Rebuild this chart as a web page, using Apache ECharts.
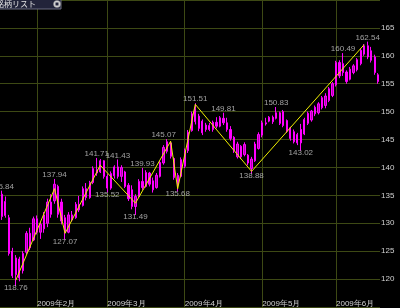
<!DOCTYPE html>
<html><head><meta charset="utf-8">
<script src="https://cdn.jsdelivr.net/npm/echarts@6/dist/echarts.min.js"></script>
<style>html,body{margin:0;padding:0;background:#000;}#c{width:400px;height:308px;}</style>
</head><body><div id="c"></div>
<script>
// Trading days (weekdays) from 2009-01-19 to 2009-06-17
const startDate = '2009-01-19', endDate = '2009-06-17';
const categories = [];
(function(){
  const d = new Date(startDate + 'T00:00:00Z'), e = new Date(endDate + 'T00:00:00Z');
  while (d <= e) {
    const w = d.getUTCDay();
    if (w !== 0 && w !== 6) categories.push(d.toISOString().slice(0,10));
    d.setUTCDate(d.getUTCDate() + 1);
  }
})();

const opens  = [135.2,131.4,131.0,125.0,120.8,123.6,121.5,124.8,128.2,127.0,130.8,128.4,129.0,130.0,133.8,134.0,136.6,133.8,131.0,128.4,131.5,131.0,133.4,133.2,136.2,134.6,137.3,139.6,139.2,141.2,138.4,136.3,138.5,140.1,138.4,139.2,136.8,136.0,133.0,134.8,137.5,136.6,139.0,137.6,136.4,138.4,140.8,142.9,144.4,141.6,138.6,138.4,140.2,143.0,146.6,148.2,149.2,148.3,146.8,147.5,146.8,148.1,147.4,148.8,148.0,146.8,145.4,141.9,143.8,142.3,142.2,139.8,141.2,143.4,145.8,148.0,148.3,149.0,148.8,149.8,147.5,148.4,147.1,146.4,144.4,146.8,146.0,147.9,148.5,149.6,149.8,150.7,151.1,152.0,152.9,154.8,158.8,157.0,157.1,155.8,157.0,157.5,158.6,160.3,161.8,160.9,159.8,156.6];
const highs  = [135.84,134.8,131.5,125.6,124.3,124.0,125.0,128.6,129.2,131.2,131.4,130.2,132.0,134.4,135.2,137.94,136.9,134.4,131.5,132.0,132.2,133.8,134.9,136.6,137.2,137.6,140.2,141.71,141.5,141.3,138.8,139.3,140.4,141.43,140.4,139.4,137.2,136.8,135.2,137.9,139.93,139.5,139.2,138.2,139.0,141.2,144.0,145.07,144.6,141.8,139.0,141.8,143.4,146.7,150.0,151.51,149.6,148.6,148.0,148.0,148.4,149.0,149.2,149.81,148.9,147.4,145.6,144.6,144.0,144.5,142.4,141.9,144.6,146.3,148.4,148.9,149.2,149.3,150.83,150.0,150.3,148.6,147.3,146.8,146.2,147.8,148.9,150.0,150.3,151.1,151.7,152.8,153.3,154.4,155.3,159.1,159.2,160.49,157.4,158.0,158.5,159.6,161.3,162.1,162.54,161.6,160.2,156.9];
const lows   = [130.6,131.0,124.2,120.2,118.76,119.6,121.0,124.4,125.2,126.8,128.0,127.2,128.3,129.3,131.0,133.5,131.0,129.8,127.07,128.2,130.3,130.8,132.0,133.0,134.1,134.4,137.0,138.5,139.0,138.0,135.52,136.0,138.0,138.0,137.4,136.3,134.0,132.5,131.49,134.6,136.0,136.4,136.6,135.5,136.2,138.2,140.5,142.5,141.6,137.8,135.68,138.2,139.9,142.6,146.4,147.7,146.5,145.8,146.4,146.5,146.4,147.0,147.2,147.6,146.4,144.8,142.6,141.6,141.5,142.0,140.4,138.88,141.0,143.2,145.4,147.5,148.1,147.8,148.6,147.6,147.2,146.2,144.8,144.3,144.0,143.02,145.8,147.6,148.2,149.2,149.5,150.4,150.6,151.7,152.6,154.5,156.0,156.4,155.0,155.6,156.7,157.2,158.3,160.0,159.4,158.8,156.6,155.0];
const closes = [131.2,133.9,124.6,120.6,123.8,120.2,124.6,128.2,125.6,130.8,128.4,129.8,131.5,133.8,131.6,137.0,131.6,130.4,128.4,131.5,130.6,133.4,132.4,136.2,134.6,137.3,139.8,139.0,141.2,138.4,136.3,138.9,140.1,138.4,140.0,136.6,134.4,133.0,134.8,137.5,136.4,139.1,137.0,136.0,138.6,140.9,143.6,144.6,142.0,138.2,137.0,141.4,143.0,146.3,149.6,150.6,147.0,146.2,147.6,146.8,148.1,147.4,148.9,148.0,146.8,145.2,143.0,144.2,141.9,144.1,140.8,141.5,144.2,145.9,148.0,147.8,149.0,148.2,149.8,147.9,150.0,146.5,145.2,144.6,145.9,144.4,148.6,149.7,150.1,150.8,151.4,152.5,152.8,154.1,155.0,158.8,156.4,158.6,155.4,157.6,158.2,159.3,161.0,161.8,159.8,159.2,157.0,155.4];

// zigzag vertices: [category index, value]
const zigzagIdx = [4, 15, 18, 28, 38, 48, 50, 55, 71, 103];
const zigzagVal = [119.8, 136.2, 128.2, 140.4, 133.6, 144.7, 136.2, 151.3, 139.3, 162.0];

// swing annotations
const swingIdx  = [0, 4, 15, 18, 27, 30, 33, 38, 40, 46, 50, 55, 63, 71, 78, 85, 97, 104];
const swingVal  = [135.84,118.76,137.94,127.07,141.71,135.52,141.43,131.49,139.93,145.07,135.68,151.51,149.81,138.88,150.83,143.02,160.49,162.54];
const swingType = ['H','L','H','L','H','L','H','L','H','H','L','H','H','L','H','L','H','H'];

const yTicks = {min: 115, max: 170, interval: 5};

const candleData = categories.map((c, i) => [opens[i], closes[i], lows[i], highs[i]]);
const zigzagData = zigzagIdx.map((ix, k) => [ix, zigzagVal[k]]);
const swingData = swingIdx.map((ix, k) => ({
  value: [ix, swingVal[k]],
  label: swingType[k] === 'H'
    ? {position: 'top', distance: 0}
    : {position: 'bottom', distance: -2}
}));

function isMonthStart(index) {
  if (index === 0) return false;
  return categories[index].slice(5,7) !== categories[index-1].slice(5,7);
}

const FONT = '"Liberation Sans Narrow","Liberation Sans",sans-serif';
const chart = echarts.init(document.getElementById('c'), null, {renderer: 'canvas'});
chart.setOption({
  backgroundColor: '#000',
  animation: false,
  grid: {left: 0, right: 20, top: -23.2, bottom: -1.2, containLabel: false},
  xAxis: {
    type: 'category', data: categories, boundaryGap: true,
    axisLine: {show: false}, axisTick: {show: false},
    axisLabel: {
      inside: true, margin: -1, align: 'left', color: '#d0d0d0',
      fontSize: 8, fontFamily: FONT,
      interval: (i) => isMonthStart(i),
      formatter: (v) => v.slice(0,4) + '年' + parseInt(v.slice(5,7), 10) + '月'
    },
    splitLine: {show: true, alignWithLabel: true, interval: (i) => isMonthStart(i),
      lineStyle: {color: '#3d4914', width: 1}}
  },
  yAxis: {
    type: 'value', position: 'right', scale: true,
    min: yTicks.min, max: yTicks.max, interval: yTicks.interval,
    axisLine: {show: false}, axisTick: {show: false},
    axisLabel: {color: '#d0d0d0', fontSize: 8, fontFamily: FONT, margin: 1,
      showMinLabel: false, showMaxLabel: false},
    splitLine: {show: true, lineStyle: {color: '#3d4914', width: 1}}
  },
  series: [
    {
      type: 'candlestick', data: candleData, barMaxWidth: 3,
      itemStyle: {color: '#b000b0', color0: '#ff00ff', borderColor: '#ff00ff', borderColor0: '#ff00ff', borderWidth: 1}
    },
    {
      type: 'line', data: zigzagData, symbol: 'none', z: 5,
      lineStyle: {color: '#f0f000', width: 1}
    },
    {
      type: 'scatter', data: swingData, symbolSize: 0, z: 6,
      label: {show: true, color: '#c8c8c8', fontSize: 8, fontFamily: FONT,
        formatter: (p) => p.value[1].toFixed(2)}
    }
  ],
  graphic: [
    {type: 'rect', shape: {x: -1, y: -1, width: 62, height: 10},
     style: {fill: '#22243a', stroke: '#6a6c80', lineWidth: 1}, z: 100},
    {type: 'text', x: -4, y: 4, z: 101,
     style: {text: '銘柄リスト', fill: '#e0e0e0', font: '8px "Noto Sans CJK JP"', verticalAlign: 'middle'}},
    {type: 'circle', shape: {cx: 57, cy: 4, r: 3.5}, z: 101,
     style: {fill: '#d8d8d8', stroke: '#888', lineWidth: 0.5}},
    {type: 'rect', shape: {x: 55.5, y: 2.5, width: 3, height: 3}, z: 102,
     style: {fill: '#22243a'}}
  ]
});
</script></body></html>
